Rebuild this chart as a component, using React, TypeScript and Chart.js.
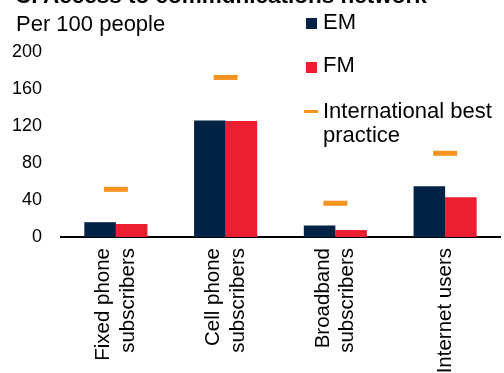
import React, { useEffect, useRef } from "react";
import { Chart, registerables } from "chart.js";

Chart.register(...registerables);

const categories: string[][] = [
  ["Fixed phone", "subscribers"],
  ["Cell phone", "subscribers"],
  ["Broadband", "subscribers"],
  ["Internet users"],
];
const emValues = [16, 126, 12.5, 55];
const fmValues = [14, 125.5, 7.5, 43];
const bestPractice = [51.5, 172.5, 36.5, 90.5];
const yTicks = [0, 40, 80, 120, 160, 200];

const NAVY = "#002345";
const RED = "#EC1E2F";
const ORANGE = "#F7931E";
const FONT = "'Liberation Sans', Arial, sans-serif";
const X_FONT_SIZE = 20.5;
const X_LINE_HEIGHT = 1.2;

export default function App() {
  const ref = useRef<HTMLCanvasElement | null>(null);

  useEffect(() => {
    if (!ref.current) return;
    const chart = new Chart(ref.current, {
      type: "bar",
      data: {
        labels: categories,
        datasets: [
          {
            type: "line",
            label: "International best practice",
            data: bestPractice,
            showLine: false,
            pointStyle: "line",
            pointRadius: 12,
            pointHoverRadius: 12,
            borderWidth: 5,
            pointBorderWidth: 5,
            borderColor: ORANGE,
            backgroundColor: ORANGE,
            order: 0,
          } as any,
          {
            label: "EM",
            data: emValues,
            backgroundColor: NAVY,
            categoryPercentage: 0.575,
            barPercentage: 1,
            order: 1,
          },
          {
            label: "FM",
            data: fmValues,
            backgroundColor: RED,
            categoryPercentage: 0.575,
            barPercentage: 1,
            order: 1,
          },
        ],
      },
      options: {
        responsive: false,
        animation: false,
        events: [],
        layout: { autoPadding: false, padding: { top: 52, right: 4, left: 0, bottom: 0 } },
        plugins: {
          legend: { display: false },
          tooltip: { enabled: false },
          title: { display: false },
        },
        scales: {
          x: {
            grid: { display: false, drawTicks: false },
            border: { display: true, color: "#000", width: 2 },
            afterBuildTicks: (s: any) => {
              // centre multi-line rotated labels on their category
              const perCat = 439 / categories.length;
              const lh = X_FONT_SIZE * X_LINE_HEIGHT;
              s.ticks = categories.map((c, i) => ({
                value: i - ((c.length - 1) * lh) / 2 / perCat,
              }));
            },
            ticks: {
              color: "#000",
              font: { family: FONT, size: X_FONT_SIZE, lineHeight: X_LINE_HEIGHT },
              minRotation: 90,
              maxRotation: 90,
              padding: 11,
              autoSkip: false,
              callback: (_v: any, i: number) => categories[i],
            },
            afterFit: (s: any) => {
              s.height = 143;
              s.paddingLeft = 0;
              s.paddingRight = 0;
            },
          },
          y: {
            min: 0,
            max: 200,
            grid: { display: false, drawTicks: false },
            border: { display: false },
            afterBuildTicks: (s: any) => {
              s.ticks = yTicks.map((v) => ({ value: v }));
            },
            ticks: {
              color: "#000",
              font: { family: FONT, size: 18 },
              padding: 19,
            },
            afterFit: (s: any) => {
              s.width = 61;
            },
          },
        },
      },
    });
    return () => chart.destroy();
  }, []);

  const text: React.CSSProperties = {
    position: "absolute",
    fontFamily: FONT,
    color: "#000",
    whiteSpace: "nowrap",
  };

  return (
    <div
      style={{
        position: "fixed",
        left: 0,
        top: 0,
        width: 504,
        height: 373,
        overflow: "hidden",
        background: "#fff",
      }}
    >
      <canvas ref={ref} width={504} height={380} style={{ position: "absolute", left: 0, top: 0 }} />
      <div style={{ ...text, left: 15, top: -15, fontSize: 22.5, lineHeight: "22.5px", fontWeight: "bold" }}>
        C. Access to communications network
      </div>
      <div style={{ ...text, left: 16, top: 13, fontSize: 22, lineHeight: "22px" }}>Per 100 people</div>
      <div style={{ position: "absolute", left: 306, top: 18, width: 11, height: 11, background: NAVY }} />
      <div style={{ ...text, left: 323, top: 11, fontSize: 22, lineHeight: "22px" }}>EM</div>
      <div style={{ position: "absolute", left: 306, top: 62, width: 11, height: 11, background: RED }} />
      <div style={{ ...text, left: 323, top: 54, fontSize: 22, lineHeight: "22px" }}>FM</div>
      <div style={{ position: "absolute", left: 304, top: 110, width: 14, height: 3, background: ORANGE }} />
      <div style={{ ...text, left: 323, top: 99, fontSize: 22, lineHeight: "24px" }}>
        International best
        <br />
        practice
      </div>
    </div>
  );
}
